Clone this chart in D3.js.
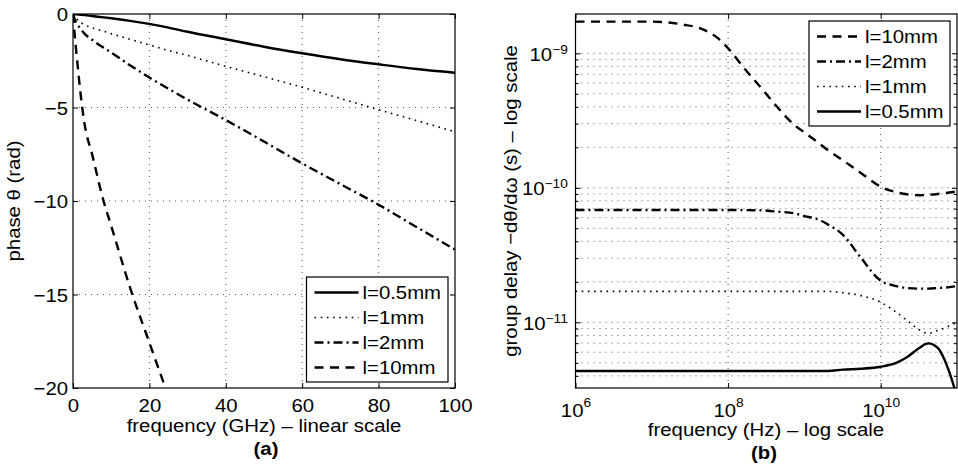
<!DOCTYPE html>
<html>
<head>
<meta charset="utf-8">
<script src="https://cdn.jsdelivr.net/npm/d3@7/dist/d3.min.js"></script>
<style>
body { margin: 0; background: #fff; }
svg text { font-family: "Liberation Sans", Arial, sans-serif; fill: #000; }
</style>
</head>
<body>
<div id="chart"></div>
<script>
// ---- data ----

// (a) phase vs frequency, linear scale
const freqGHz   = [0, 0.5, 1, 2, 3, 5, 8, 10, 15, 20, 25, 30, 40, 50, 60, 70, 80, 90, 100];
const phase05mm = [0, -0.01, -0.02, -0.04, -0.06, -0.11, -0.18, -0.23, -0.37, -0.53, -0.73, -0.95, -1.35, -1.75, -2.1, -2.42, -2.69, -2.94, -3.14];
const phase1mm  = [0, -0.15, -0.27, -0.45, -0.57, -0.74, -0.92, -1.05, -1.36, -1.66, -1.95, -2.22, -2.8, -3.35, -3.92, -4.52, -5.12, -5.7, -6.3];
const phase2mm  = [0, -0.3, -0.5, -0.8, -1.05, -1.38, -1.8, -2.06, -2.75, -3.4, -4.0, -4.58, -5.67, -6.82, -7.99, -9.1, -10.2, -11.4, -12.6];
const phase10mm = [0, -1.25, -2.3, -4.3, -5.85, -7.5, -10.0, -11.33, -14.67, -17.58, -20.45, null, null, null, null, null, null, null, null];

// (b) group delay vs frequency, log scale
const freqHz    = [1e6, 1e7, 2.5e7, 4.5e7, 7.4e7, 1e8, 1.6e8, 2.8e8, 4e8, 7.4e8, 1e9, 1.6e9, 2e9, 3.2e9, 5.5e9, 1e10, 1.6e10, 2.2e10, 3.2e10, 4.2e10, 5.6e10, 7.6e10, 1e11];
const delay10mm = [1.72e-9, 1.72e-9, 1.64e-9, 1.52e-9, 1.29e-9, 1.09e-9, 7.83e-10, 5.41e-10, 4.25e-10, 2.93e-10, 2.58e-10, 2.12e-10, 1.92e-10, 1.60e-10, 1.29e-10, 1.02e-10, 9.29e-11, 8.95e-11, 8.81e-11, 8.87e-11, 9.0e-11, 9.2e-11, 9.4e-11];
const delay2mm  = [6.84e-11, 6.84e-11, 6.84e-11, 6.84e-11, 6.84e-11, 6.84e-11, 6.83e-11, 6.8e-11, 6.68e-11, 6.46e-11, 6.17e-11, 5.75e-11, 5.37e-11, 4.47e-11, 3.02e-11, 2.04e-11, 1.86e-11, 1.80e-11, 1.78e-11, 1.78e-11, 1.80e-11, 1.82e-11, 1.86e-11];
const delay1mm  = [1.7e-11, 1.7e-11, 1.7e-11, 1.7e-11, 1.7e-11, 1.7e-11, 1.7e-11, 1.7e-11, 1.7e-11, 1.7e-11, 1.7e-11, 1.7e-11, 1.7e-11, 1.66e-11, 1.58e-11, 1.41e-11, 1.19e-11, 1.035e-11, 8.8e-12, 8.28e-12, 8.7e-12, 9.3e-12, 1.0e-11];
const delay05mm = [4.35e-12, 4.35e-12, 4.35e-12, 4.35e-12, 4.35e-12, 4.35e-12, 4.35e-12, 4.35e-12, 4.35e-12, 4.35e-12, 4.35e-12, 4.35e-12, 4.35e-12, 4.45e-12, 4.52e-12, 4.68e-12, 5.0e-12, 5.5e-12, 6.45e-12, 6.98e-12, 6.45e-12, 4.57e-12, 2.8e-12];

// ticks
const ticksGHz   = [0, 20, 40, 60, 80, 100];
const ticksPhase = [0, -5, -10, -15, -20];
const ticksHz    = [1e6, 1e8, 1e10];
const ticksDelay = [1e-11, 1e-10, 1e-9];
const minorMult  = [2, 3, 4, 5, 6, 7, 8, 9];

// legend order
const legendA = ["l=0.5mm", "l=1mm", "l=2mm", "l=10mm"];
const legendB = ["l=10mm", "l=2mm", "l=1mm", "l=0.5mm"];

// ---- layout ----
const width = 958, height = 471;
const SX = 1.1;            // glyphs in the reference are a bit wide
const fs = 18.5;

const A = {x0: 73, x1: 455, y0: 14, y1: 388};
const B = {x0: 575.5, x1: 957, y0: 14, y1: 388};

const styles = {
    "l=0.5mm": {dash: null, w: 2.4},
    "l=1mm":   {dash: "1.6,4.6", w: 1.6},
    "l=2mm":   {dash: "9,4,2,4", w: 2.4},
    "l=10mm":  {dash: "9,6.5", w: 2.4}
};

var svg = d3.select("#chart").append("svg")
    .attr("width", width)
    .attr("height", height);

var defs = svg.append("defs");

// ---- scales ----
const xA = d3.scaleLinear().domain([0, 100]).range([A.x0, A.x1]);
const yA = d3.scaleLinear().domain([-20, 0]).range([A.y1, A.y0]);
const xB = d3.scaleLog().domain([1e6, 1e11]).range([B.x0, B.x1]);
const yB = d3.scaleLog().domain([3.25e-12, 1.96e-9]).range([B.y1, B.y0]);

const minorDelay = [];
[1e-12, 1e-11, 1e-10, 1e-9].forEach(dec => minorMult.forEach(m => {
    const v = m * dec;
    if (v > yB.domain()[0] && v < yB.domain()[1]) minorDelay.push(v);
}));

function stretch(sel) {
    sel.attr("transform", `scale(${SX},1)`);
}

function styleAxis(g) {
    g.select(".domain").remove();
    g.attr("font-size", fs).attr("font-family", null);
    g.selectAll(".tick line").attr("stroke", "#000").attr("stroke-width", 1);
}

function gridDots(g) {
    g.attr("stroke", "#555").attr("stroke-width", 1).attr("stroke-dasharray", "1,5");
}

// ===================== panel (a) =====================
var pa = svg.append("g");

defs.append("clipPath").attr("id", "clipA").append("rect")
    .attr("x", A.x0).attr("y", A.y0).attr("width", A.x1 - A.x0).attr("height", A.y1 - A.y0);

// grid
var gridA = pa.append("g").call(gridDots);
gridA.selectAll(".gx").data(ticksGHz.slice(1, -1)).join("line")
    .attr("x1", d => xA(d)).attr("x2", d => xA(d))
    .attr("y1", A.y0).attr("y2", A.y1);
gridA.selectAll(".gy").data(ticksPhase.slice(1, -1)).join("line")
    .attr("x1", A.x0).attr("x2", A.x1)
    .attr("y1", d => yA(d)).attr("y2", d => yA(d));

// axes (ticks point inward)
pa.append("g").attr("transform", `translate(0,${A.y1})`)
    .call(d3.axisBottom(xA).tickValues(ticksGHz).tickSize(-5).tickPadding(10.5).tickFormat(d3.format("d")))
    .call(styleAxis)
    .call(g => g.selectAll(".tick text").call(stretch));
pa.append("g").attr("transform", `translate(0,${A.y0})`)
    .call(d3.axisTop(xA).tickValues(ticksGHz).tickSize(-5).tickFormat(""))
    .call(styleAxis);
pa.append("g").attr("transform", `translate(${A.x0},0)`)
    .call(d3.axisLeft(yA).tickValues(ticksPhase).tickSize(-5).tickPadding(4.5).tickFormat(d3.format("d")))
    .call(styleAxis)
    .call(g => g.selectAll(".tick text").attr("dy", "0.37em").call(stretch));
pa.append("g").attr("transform", `translate(${A.x1},0)`)
    .call(d3.axisRight(yA).tickValues(ticksPhase).tickSize(-5).tickFormat(""))
    .call(styleAxis);

// curves
const seriesA = [
    {name: "l=0.5mm", values: phase05mm},
    {name: "l=1mm", values: phase1mm},
    {name: "l=2mm", values: phase2mm},
    {name: "l=10mm", values: phase10mm}
];
const lineA = d3.line()
    .defined(d => d[1] !== null)
    .x(d => xA(d[0]))
    .y(d => yA(d[1]))
    .curve(d3.curveMonotoneX);

pa.append("g").attr("clip-path", "url(#clipA)")
    .selectAll("path").data(seriesA).join("path")
    .attr("d", s => lineA(freqGHz.map((f, i) => [f, s.values[i]])))
    .attr("fill", "none")
    .attr("stroke", "#000")
    .attr("stroke-width", s => styles[s.name].w)
    .attr("stroke-dasharray", s => styles[s.name].dash);

// frame
pa.append("rect")
    .attr("x", A.x0).attr("y", A.y0).attr("width", A.x1 - A.x0).attr("height", A.y1 - A.y0)
    .attr("fill", "none").attr("stroke", "#000").attr("stroke-width", 1.2);

// labels
pa.append("g").attr("transform", "translate(264,432)")
    .append("text").attr("text-anchor", "middle").attr("font-size", fs)
    .text("frequency (GHz) \u2013 linear scale").call(stretch);
pa.append("g").attr("transform", "translate(266,455)")
    .append("text").attr("text-anchor", "middle").attr("font-size", fs).attr("font-weight", "bold")
    .text("(a)").call(stretch);
pa.append("g").attr("transform", "translate(20,201) rotate(-90)")
    .append("text").attr("text-anchor", "middle").attr("font-size", fs)
    .text("phase \u03b8 (rad)").call(stretch);

// legend
function drawLegend(g, names, box) {
    g.append("rect")
        .attr("x", box.x).attr("y", box.y).attr("width", box.w).attr("height", box.h)
        .attr("fill", "#fff").attr("stroke", "#000").attr("stroke-width", 1.2);
    var rows = g.selectAll(".row").data(names).join("g")
        .attr("transform", (d, i) => `translate(${box.x},${box.y + 15.5 + i * 25})`);
    rows.append("line")
        .attr("x1", 8).attr("x2", 52).attr("y1", 0).attr("y2", 0)
        .attr("stroke", "#000")
        .attr("stroke-width", d => styles[d].w)
        .attr("stroke-dasharray", d => styles[d].dash);
    rows.append("g").attr("transform", "translate(56,6.8)")
        .append("text").attr("font-size", fs).text(d => d).call(stretch);
}

drawLegend(pa.append("g"), legendA, {x: 306.5, y: 277, w: 141.5, h: 105});

// ===================== panel (b) =====================
var pb = svg.append("g");

defs.append("clipPath").attr("id", "clipB").append("rect")
    .attr("x", B.x0).attr("y", B.y0).attr("width", B.x1 - B.x0).attr("height", B.y1 - B.y0);

var gridB = pb.append("g").call(gridDots);
gridB.selectAll(".gx").data(ticksHz.slice(1)).join("line")
    .attr("x1", d => xB(d)).attr("x2", d => xB(d))
    .attr("y1", B.y0).attr("y2", B.y1);
gridB.selectAll(".gy").data(ticksDelay.concat(minorDelay)).join("line")
    .attr("x1", B.x0).attr("x2", B.x1)
    .attr("y1", d => yB(d)).attr("y2", d => yB(d));

function powerLabel(g, expOf, baseDy, supDy) {
    g.selectAll(".tick text").each(function(d) {
        var t = d3.select(this).text("").attr("dy", baseDy);
        t.append("tspan").text("10");
        t.append("tspan").attr("font-size", 12.5).attr("dy", supDy).text(expOf(d));
    }).call(stretch);
}
const expo = d => d3.format("d")(Math.round(Math.log10(d)));

pb.append("g").attr("transform", `translate(0,${B.y1})`)
    .call(d3.axisBottom(xB).tickValues(ticksHz).tickSize(-5).tickPadding(16).tickFormat(() => ""))
    .call(styleAxis)
    .call(g => powerLabel(g, expo, "0.71em", -10));
pb.append("g").attr("transform", `translate(0,${B.y0})`)
    .call(d3.axisTop(xB).tickValues(ticksHz).tickSize(-5).tickFormat(""))
    .call(styleAxis);
pb.append("g").attr("transform", `translate(${B.x0},0)`)
    .call(d3.axisLeft(yB).tickValues(ticksDelay).tickSize(-5).tickPadding(7).tickFormat(() => ""))
    .call(styleAxis)
    .call(g => powerLabel(g, expo, "0.37em", -7));
pb.append("g").attr("transform", `translate(${B.x0},0)`)
    .call(d3.axisLeft(yB).tickValues(minorDelay).tickSize(-3).tickFormat(""))
    .call(styleAxis);
pb.append("g").attr("transform", `translate(${B.x1},0)`)
    .call(d3.axisRight(yB).tickValues(ticksDelay).tickSize(-5).tickFormat(""))
    .call(styleAxis);
pb.append("g").attr("transform", `translate(${B.x1},0)`)
    .call(d3.axisRight(yB).tickValues(minorDelay).tickSize(-3).tickFormat(""))
    .call(styleAxis);

const seriesB = [
    {name: "l=10mm", values: delay10mm},
    {name: "l=2mm", values: delay2mm},
    {name: "l=1mm", values: delay1mm},
    {name: "l=0.5mm", values: delay05mm}
];
const lineB = d3.line()
    .x(d => xB(d[0]))
    .y(d => yB(d[1]))
    .curve(d3.curveMonotoneX);

pb.append("g").attr("clip-path", "url(#clipB)")
    .selectAll("path").data(seriesB).join("path")
    .attr("d", s => lineB(freqHz.map((f, i) => [f, s.values[i]])))
    .attr("fill", "none")
    .attr("stroke", "#000")
    .attr("stroke-width", s => styles[s.name].w)
    .attr("stroke-dasharray", s => styles[s.name].dash);

pb.append("rect")
    .attr("x", B.x0).attr("y", B.y0).attr("width", B.x1 - B.x0).attr("height", B.y1 - B.y0)
    .attr("fill", "none").attr("stroke", "#000").attr("stroke-width", 1.2);

pb.append("g").attr("transform", "translate(766,436)")
    .append("text").attr("text-anchor", "middle").attr("font-size", fs)
    .text("frequency (Hz) \u2013 log scale").call(stretch);
pb.append("g").attr("transform", "translate(764,459)")
    .append("text").attr("text-anchor", "middle").attr("font-size", fs).attr("font-weight", "bold")
    .text("(b)").call(stretch);
pb.append("g").attr("transform", "translate(517,201) rotate(-90)")
    .append("text").attr("text-anchor", "middle").attr("font-size", fs)
    .text("group delay \u2212d\u03b8/d\u03c9 (s) \u2013 log scale").call(stretch);

drawLegend(pb.append("g"), legendB, {x: 809, y: 21, w: 141, h: 105});
</script>
</body>
</html>
